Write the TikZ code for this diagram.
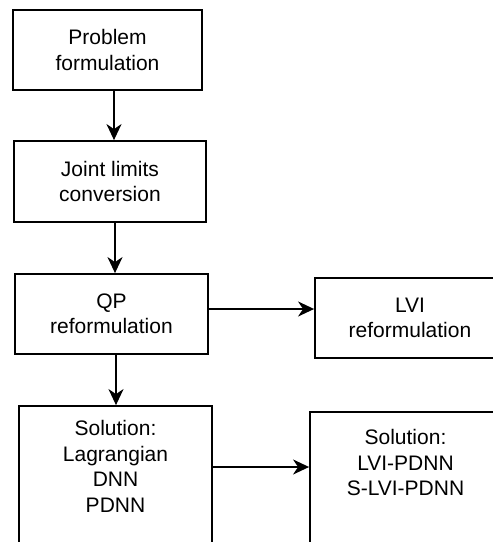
\documentclass[tikz,border=0pt]{standalone}
\usepackage{fontspec}
\setmainfont{Liberation Sans}
\usetikzlibrary{arrows.meta}
\tikzset{
    stage/.style={draw, line width=1.8pt, align=center, inner sep=0pt,
            font=\fontsize{21}{25.5}\selectfont},
    stagetext/.style={align=center, inner sep=0pt,
            font=\fontsize{21}{25.5}\selectfont},
    flow/.style={-{Stealth[length=16pt,width=15pt,inset=5pt]}, line width=1.8pt},
}

\begin{document}
\begin{tikzpicture}[x=1pt, y=-1pt]
        \useasboundingbox (0, 0) rectangle (493, 542);
        \clip (0, 0) rectangle (493, 542);
        %left column
        \node[stage, minimum width=189pt, minimum height=80pt] (problem) at (107.5, 50) {Problem\\formulation};
        \node[stage, minimum width=192pt, minimum height=81pt] (limits) at (110, 181.5) {Joint limits\\conversion};
        \node[stage, minimum width=193pt, minimum height=80pt] (qp) at (111.5, 314) {QP\\reformulation};
        \node[stage, minimum width=193pt, minimum height=200pt] (solqp) at (115.5, 506) {};
        \node[stagetext] (solqptext) at (115.5, 466.5) {Solution:\\Lagrangian\\DNN\\PDNN};
        %right column
        \node[stage, minimum width=190pt, minimum height=80pt] (lvi) at (410, 318) {LVI\\reformulation};
        \node[stage, minimum width=191pt, minimum height=200pt] (sollvi) at (405.5, 512) {};
        \node[stagetext] (sollvitext) at (405.5, 462.5) {Solution:\\LVI-PDNN\\S-LVI-PDNN};
        %arrows
        \draw[flow] ([xshift=6.5pt]problem.south) -- ([xshift=6.5pt]problem.south |- limits.north);
        \draw[flow] ([xshift=5pt]limits.south) -- ([xshift=5pt]limits.south |- qp.north);
        \draw[flow] ([xshift=4.5pt]qp.south) -- ([xshift=4.5pt]qp.south |- solqp.north);
        \draw[flow] ([yshift=5pt]qp.east) -- ([yshift=5pt]qp.east -| lvi.west);
        \draw[flow] (solqp.east |- 0, 467) -- (sollvi.west |- 0, 467);
    \end{tikzpicture}
\end{document}
